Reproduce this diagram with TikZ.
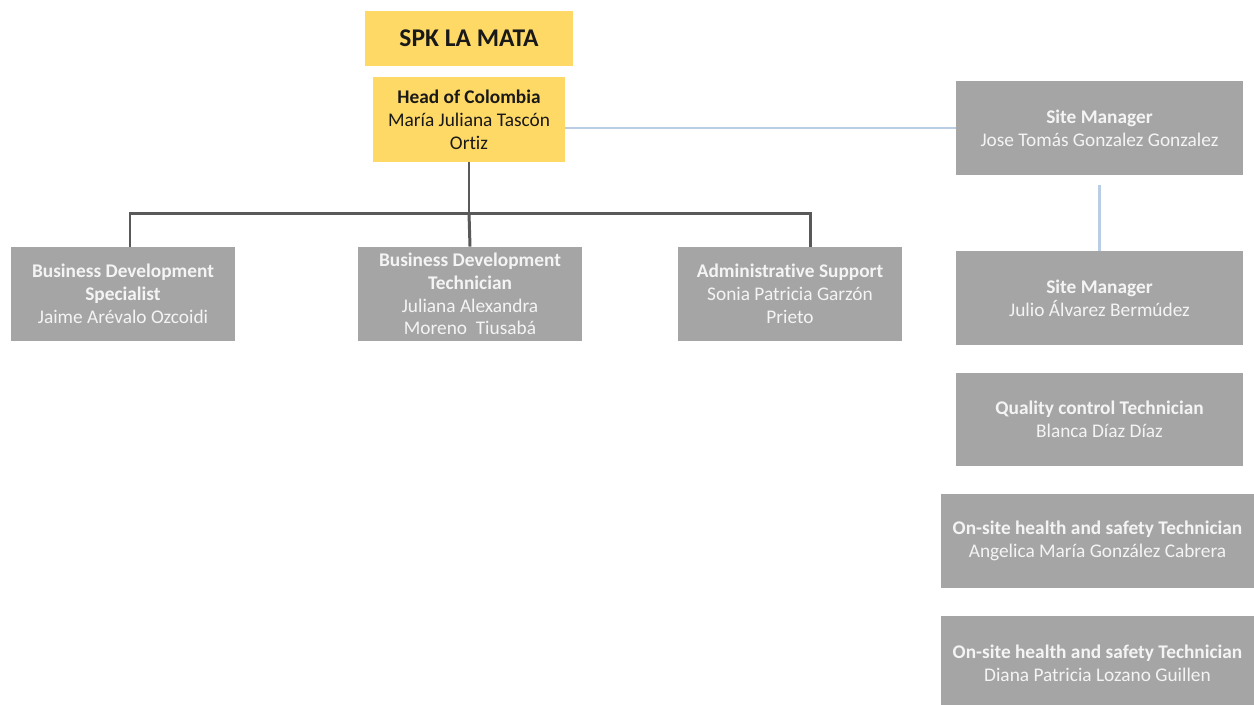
\documentclass[tikz,border=0pt]{standalone}
\usepackage{fontspec}
\setmainfont{Carlito}[Ligatures=NoCommon]
\definecolor{gold}{HTML}{FFD966}
\definecolor{boxgray}{HTML}{A5A5A5}
\definecolor{linegray}{HTML}{595959}
\definecolor{lineblue}{HTML}{B9CDE5}
\definecolor{paletext}{HTML}{F4F4F4}
\begin{document}
\begin{tikzpicture}[x=0.02cm,y=-0.02cm,
  every node/.style={inner sep=0pt,align=center,font=\fontsize{11}{13}\selectfont},
  yellowbox/.style={fill=gold,text=black!90},
  graybox/.style={fill=boxgray,text=paletext,minimum width=224*0.02cm,minimum height=94*0.02cm},
  sitebox/.style={graybox,minimum width=287*0.02cm},
  widebox/.style={graybox,minimum width=313*0.02cm},
  bus/.style={draw=linegray,line width=1.7pt},
  link/.style={draw=lineblue,line width=1.2pt}]
\useasboundingbox (0,0) rectangle (1254,704);
\clip (0,0) rectangle (1254,704);
% top of the chart
\node [yellowbox,minimum width=208*0.02cm,minimum height=55*0.02cm,
  font=\fontsize{14.5}{17}\selectfont\bfseries] (title) at (469,38.5) {SPK LA MATA};
\node [yellowbox,minimum width=192*0.02cm,minimum height=85*0.02cm] (head) at (469,119.5)
  {\textbf{Head of Colombia}\\María Juliana Tascón\\Ortiz};
% staff under the head
\node [graybox] (bds) at (123,294) {\textbf{Business Development}\\\textbf{Specialist}\\Jaime Arévalo Ozcoidi};
\node [graybox] (bdt) at (470,294) {\textbf{Business Development}\\\textbf{Technician}\\Juliana Alexandra\\Moreno~~Tiusabá};
\node [graybox] (adm) at (790,294) {\textbf{Administrative Support}\\Sonia Patricia Garzón\\Prieto};
% site column
\node [sitebox] (sm1) at (1099.5,128) {\textbf{Site Manager}\\Jose Tomás Gonzalez Gonzalez};
\node [sitebox] (sm2) at (1099.5,298) {\textbf{Site Manager}\\Julio Álvarez Bermúdez};
\node [sitebox,minimum height=93*0.02cm] (qct) at (1099.5,419.5) {\textbf{Quality control Technician}\\Blanca Díaz Díaz};
\node [widebox] (hst1) at (1097.5,541) {\textbf{On-site health and safety Technician}\\Angelica María González Cabrera};
\node [widebox,minimum height=110*0.02cm,text depth=16*0.02cm] (hst2) at (1097.5,671) {\textbf{On-site health and safety Technician}\\Diana Patricia Lozano Guillen};
% connectors
\coordinate (fork) at (469,213);
\draw [bus] (head.south) -- (fork);
\draw [bus] ([xshift=7*0.02cm]bds.north) |- (fork) -| ([xshift=20*0.02cm]adm.north);
\draw [bus] (fork) -- (bdt.north);
\draw [link] (head.east |- sm1.west) -- (sm1.west);
\coordinate (smgap) at ([yshift=-10*0.02cm]sm1.south);
\draw [link] (smgap) -- (sm2.north);
\end{tikzpicture}
\end{document}
